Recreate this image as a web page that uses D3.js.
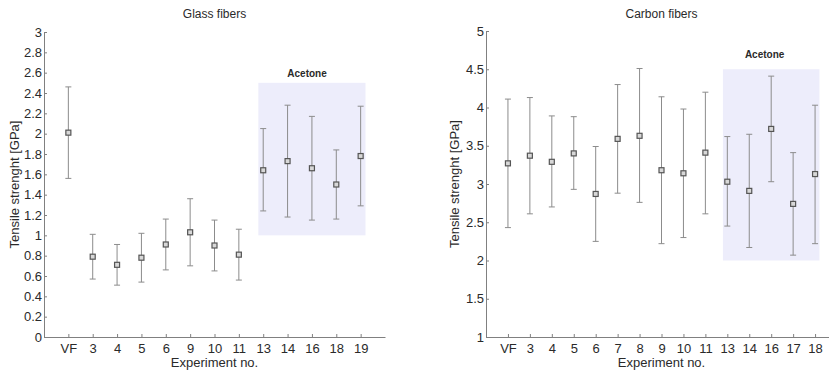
<!DOCTYPE html>
<html>
<head>
<meta charset="utf-8">
<script src="https://cdn.jsdelivr.net/npm/d3@7"></script>
<style>
  html, body { margin: 0; padding: 0; background: #fff; }
  svg { display: block; font-family: Arial, "Liberation Sans", sans-serif; }
</style>
</head>
<body>
<svg id="chart" width="829" height="375"></svg>
<script>
// Glass fibers
const glassLabels = ['VF', '3', '4', '5', '6', '9', '10', '11', '13', '14', '16', '18', '19'];
const glassMean = [2.01, 0.79, 0.71, 0.78, 0.91, 1.03, 0.90, 0.81, 1.64, 1.73, 1.66, 1.50, 1.78];
const glassUpper = [2.46, 1.01, 0.91, 1.02, 1.16, 1.36, 1.15, 1.06, 2.05, 2.28, 2.17, 1.84, 2.27];
const glassLower = [1.56, 0.57, 0.51, 0.54, 0.66, 0.70, 0.65, 0.56, 1.24, 1.18, 1.15, 1.16, 1.29];
const glassTicks = [0, 0.2, 0.4, 0.6, 0.8, 1, 1.2, 1.4, 1.6, 1.8, 2, 2.2, 2.4, 2.6, 2.8, 3];

// Carbon fibers
const carbonLabels = ['VF', '3', '4', '5', '6', '7', '8', '9', '10', '11', '13', '14', '16', '17', '18'];
const carbonMean = [3.27, 3.37, 3.29, 3.40, 2.87, 3.59, 3.63, 3.18, 3.14, 3.41, 3.03, 2.91, 3.72, 2.74, 3.13];
const carbonUpper = [4.11, 4.13, 3.89, 3.88, 3.49, 4.30, 4.51, 4.14, 3.98, 4.20, 3.62, 3.65, 4.41, 3.41, 4.03];
const carbonLower = [2.43, 2.61, 2.70, 2.93, 2.25, 2.88, 2.76, 2.22, 2.30, 2.61, 2.45, 2.17, 3.03, 2.07, 2.22];
const carbonTicks = [1, 1.5, 2, 2.5, 3, 3.5, 4, 4.5, 5];

const svg = d3.select('#chart');
const AXIS = '#808080';
const BAR = '#8c8c8c';
const TEXT = '#2a2a2a';

function drawPanel(p) {
  const x = d3.scaleLinear().domain(p.xDomain).range([p.left, p.right]);
  const y = d3.scaleLinear().domain(p.yDomain).range([p.bottom, p.top]);
  const g = svg.append('g');

  // acetone shaded region
  g.append('rect')
    .attr('x', x(p.box[0]))
    .attr('y', y(p.box[3]))
    .attr('width', x(p.box[1]) - x(p.box[0]))
    .attr('height', y(p.box[2]) - y(p.box[3]))
    .attr('fill', '#ededfb');

  g.append('text')
    .attr('x', x(p.boxLabelX))
    .attr('y', y(p.box[3]) - p.boxLabelGap)
    .attr('text-anchor', 'middle')
    .attr('font-size', 10)
    .attr('font-weight', 'bold')
    .attr('fill', TEXT)
    .text('Acetone');

  // axes
  const xAxis = d3.axisBottom(x)
    .tickValues(p.labels.map((d, i) => i + 1))
    .tickFormat((d) => p.labels[d - 1])
    .tickSizeInner(-3)
    .tickSizeOuter(0)
    .tickPadding(7);
  const gx = g.append('g').attr('transform', `translate(0,${p.bottom})`).call(xAxis);

  const yAxis = d3.axisLeft(y)
    .tickValues(p.ticks)
    .tickFormat((d) => String(+d.toFixed(1)))
    .tickSizeInner(-3)
    .tickSizeOuter(0)
    .tickPadding(4);
  const gy = g.append('g').attr('transform', `translate(${p.left},0)`).call(yAxis);

  [gx, gy].forEach((a) => {
    a.select('.domain').attr('stroke', AXIS);
    a.selectAll('.tick line').attr('stroke', AXIS);
    a.selectAll('.tick text').attr('fill', TEXT).attr('font-size', 13)
      .attr('font-family', 'Arial, "Liberation Sans", sans-serif');
  });
  gy.selectAll('.tick text').attr('x', -2);

  // error bars
  const idx = p.mean.map((d, i) => i);
  const bars = g.append('g').attr('stroke', BAR).attr('stroke-width', 1);
  bars.selectAll('.whisker').data(idx).join('line')
    .attr('x1', (i) => x(i + 1)).attr('x2', (i) => x(i + 1))
    .attr('y1', (i) => y(p.upper[i])).attr('y2', (i) => y(p.lower[i]));
  bars.selectAll('.capTop').data(idx).join('line')
    .attr('x1', (i) => x(i + 1) - 3).attr('x2', (i) => x(i + 1) + 3)
    .attr('y1', (i) => y(p.upper[i])).attr('y2', (i) => y(p.upper[i]));
  bars.selectAll('.capBottom').data(idx).join('line')
    .attr('x1', (i) => x(i + 1) - 3).attr('x2', (i) => x(i + 1) + 3)
    .attr('y1', (i) => y(p.lower[i])).attr('y2', (i) => y(p.lower[i]));

  g.selectAll('.marker').data(idx).join('rect')
    .attr('x', (i) => x(i + 1) - 2.5)
    .attr('y', (i) => y(p.mean[i]) - 2.5)
    .attr('width', 5)
    .attr('height', 5)
    .attr('fill', '#d8d8d8')
    .attr('stroke', '#555')
    .attr('stroke-width', 1.2);

  // titles
  const cx = (p.left + p.right) / 2;
  g.append('text')
    .attr('x', cx).attr('y', 18)
    .attr('text-anchor', 'middle')
    .attr('font-size', 12)
    .attr('fill', TEXT)
    .text(p.title);
  g.append('text')
    .attr('x', cx).attr('y', 367)
    .attr('text-anchor', 'middle')
    .attr('font-size', 13)
    .attr('fill', TEXT)
    .text('Experiment no.');
  g.append('text')
    .attr('transform', `translate(${p.yLabelX},${(p.top + p.bottom) / 2}) rotate(-90)`)
    .attr('text-anchor', 'middle')
    .attr('font-size', 13)
    .attr('fill', TEXT)
    .text('Tensile strenght [GPa]');
}

drawPanel({
  title: 'Glass fibers',
  labels: glassLabels, mean: glassMean, upper: glassUpper, lower: glassLower, ticks: glassTicks,
  xDomain: [0, 14], yDomain: [0, 3],
  left: 44, right: 385, top: 32, bottom: 337,
  box: [8.8, 13.2, 1.0, 2.5], boxLabelX: 10.8, boxLabelGap: 6,
  yLabelX: 19
});

drawPanel({
  title: 'Carbon fibers',
  labels: carbonLabels, mean: carbonMean, upper: carbonUpper, lower: carbonLower, ticks: carbonTicks,
  xDomain: [0, 16], yDomain: [1, 5],
  left: 486, right: 837, top: 31, bottom: 337,
  box: [10.8, 15.2, 2.0, 4.5], boxLabelX: 12.7, boxLabelGap: 11,
  yLabelX: 459
});
</script>
</body>
</html>
